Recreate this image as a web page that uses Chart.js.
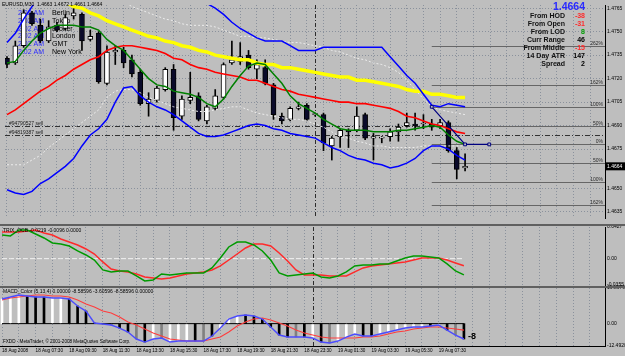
<!DOCTYPE html>
<html>
<head>
    <title>EURUSD,M30</title>
    <meta charset="utf-8">
    <script src="https://cdn.jsdelivr.net/npm/chart.js"></script>
    <style>
        body { margin: 0; background: #bebebe; }
        #wrap { position: relative; width: 625px; height: 356px; overflow: hidden; }
        canvas { position: absolute; left: 0; }
        #main { top: 0; }
        #trix { top: 222px; }
        #macd { top: 283px; }
        .sep { position: absolute; left: 0; width: 625px; height: 2px; background: #606060; }
    </style>
</head>
<body>
<div id="wrap">
    <canvas id="main" width="625" height="223"></canvas>
    <canvas id="trix" width="625" height="68"></canvas>
    <canvas id="macd" width="625" height="73"></canvas>
    <div class="sep" style="top:224px"></div>
    <div class="sep" style="top:286px"></div>
</div>
<script>
    var ARIAL = "'Liberation Sans', Arial, sans-serif";
    var SMALL = 5;
    var GRID = '#8a919c';

    // time axis (one label every 4 bars, grid every 2)
    var timeLabels = ['18 Aug 2008', '18 Aug 07:30', '18 Aug 09:30', '18 Aug 11:30', '18 Aug 13:30',
        '18 Aug 15:30', '18 Aug 17:30', '18 Aug 19:30', '18 Aug 21:30', '18 Aug 23:30',
        '19 Aug 01:30', '19 Aug 03:30', '19 Aug 05:30', '19 Aug 07:30'];
    var labelEvery = 4;
    var gridEvery = 2;
    var daySeparatorBar = 37;

    // price candles EURUSD M30
    var openP = [1.4733,1.4730,1.4741,1.4762,1.4754,1.4744,1.4754,1.4752,1.4760,1.4761,1.4745,1.4749,1.4717,1.4737,1.4738,1.4732,1.4724,1.4704,1.4706,1.4713,1.4726,1.4696,1.4706,1.4709,1.4693,1.4701,1.4708,1.4730,1.4731,1.4735,1.4726,1.4727,1.4716,1.4696,1.4694,1.4701,1.4703,1.4697,1.4697,1.4677,1.4683,1.4687,1.4687,1.4697,1.4682,1.4682,1.4683,1.4686,1.4690,1.4691,1.4691,1.4691,1.4690,1.4692,1.4674,1.4663];
    var highP = [1.4734,1.4744,1.4764,1.4763,1.4758,1.4757,1.4756,1.4761,1.4765,1.4762,1.4751,1.4750,1.4741,1.4741,1.4740,1.4735,1.4726,1.4711,1.4715,1.4727,1.4729,1.4709,1.4724,1.4711,1.4703,1.4713,1.4730,1.4744,1.4743,1.4738,1.4732,1.4732,1.4717,1.4698,1.4702,1.4705,1.4704,1.4698,1.4698,1.4683,1.4688,1.4688,1.4702,1.4698,1.4685,1.4683,1.4688,1.4691,1.4698,1.4698,1.4697,1.4694,1.4694,1.4693,1.4676,1.4672];
    var lowP = [1.4727,1.4729,1.4740,1.4754,1.4743,1.4743,1.4750,1.4751,1.4758,1.4738,1.4744,1.4717,1.4716,1.4729,1.4727,1.4721,1.4703,1.4696,1.4705,1.4712,1.4687,1.4694,1.4704,1.4693,1.4691,1.4700,1.4707,1.4729,1.4729,1.4726,1.4720,1.4716,1.4694,1.4691,1.4693,1.4700,1.4693,1.4696,1.4674,1.4668,1.4676,1.4676,1.4686,1.4681,1.4668,1.4679,1.4680,1.4680,1.4689,1.4687,1.4688,1.4687,1.4688,1.4673,1.4656,1.4661];
    var closeP = [1.4729,1.4741,1.4762,1.4755,1.4744,1.4753,1.4751,1.4759,1.4762,1.4744,1.4747,1.4718,1.4737,1.4738,1.4730,1.4723,1.4704,1.4707,1.4714,1.4726,1.4695,1.4707,1.4708,1.4694,1.4702,1.4709,1.4729,1.4732,1.4734,1.4727,1.4729,1.4717,1.4697,1.4693,1.4701,1.4702,1.4694,1.4697,1.4679,1.4682,1.4687,1.4686,1.4696,1.4682,1.4683,1.4682,1.4686,1.4689,1.4692,1.4690,1.4691,1.4689,1.4692,1.4674,1.4662,1.4664];

    // indicators on the price chart
    var maYellow = [1.4783,1.4780,1.4779,1.4776,1.4774,1.4772,1.4771,1.4769,1.4766,1.4765,1.4762,1.4760,1.4757,1.4755,1.4753,1.4751,1.4749,1.4747,1.4746,1.4744,1.4743,1.4741,1.4740,1.4738,1.4737,1.4735,1.4734,1.4733,1.4732,1.4732,1.4730,1.4729,1.4729,1.4727,1.4727,1.4726,1.4725,1.4724,1.4723,1.4722,1.4721,1.4721,1.4719,1.4719,1.4718,1.4717,1.4716,1.4715,1.4713,1.4712,1.4712,1.4710,1.4710,1.4709,1.4708,1.4708];
    var maRed = [1.4697,1.4700,1.4704,1.4708,1.4712,1.4715,1.4719,1.4722,1.4726,1.4729,1.4732,1.4734,1.4738,1.4740,1.4741,1.4741,1.4740,1.4739,1.4738,1.4736,1.4733,1.4732,1.4729,1.4727,1.4726,1.4724,1.4723,1.4722,1.4721,1.4719,1.4719,1.4717,1.4715,1.4713,1.4712,1.4710,1.4709,1.4708,1.4707,1.4706,1.4705,1.4705,1.4704,1.4704,1.4703,1.4702,1.4701,1.4699,1.4696,1.4695,1.4693,1.4691,1.4690,1.4688,1.4686,1.4685];
    var maGreen = [1.4730,1.4731,1.4738,1.4744,1.4749,1.4752,1.4754,1.4754,1.4754,1.4753,1.4753,1.4751,1.4745,1.4741,1.4738,1.4732,1.4726,1.4720,1.4716,1.4715,1.4712,1.4711,1.4710,1.4708,1.4704,1.4702,1.4707,1.4715,1.4722,1.4728,1.4730,1.4729,1.4723,1.4717,1.4709,1.4704,1.4701,1.4698,1.4694,1.4691,1.4688,1.4687,1.4687,1.4687,1.4686,1.4686,1.4686,1.4687,1.4687,1.4688,1.4689,1.4690,1.4689,1.4684,1.4680,1.4678];
    var bandUpper = [1.4743,1.4749,1.4758,1.4766,1.4773,1.4779,1.4785,1.4790,1.4794,1.4797,1.4799,1.4800,1.4801,1.4801,1.4800,1.4799,1.4797,1.4794,1.4791,1.4788,1.4784,1.4779,1.4776,1.4771,1.4768,1.4765,1.4761,1.4756,1.4752,1.4749,1.4746,1.4744,1.4744,1.4744,1.4741,1.4738,1.4738,1.4738,1.4740,1.4740,1.4740,1.4740,1.4740,1.4740,1.4740,1.4740,1.4734,1.4728,1.4722,1.4717,1.4710,1.4703,1.4702,1.4704,1.4703,1.4702];
    var bandLower = [1.4649,1.4647,1.4646,1.4648,1.4653,1.4656,1.4660,1.4664,1.4669,1.4677,1.4684,1.4688,1.4694,1.4705,1.4714,1.4715,1.4709,1.4705,1.4702,1.4700,1.4697,1.4693,1.4689,1.4685,1.4683,1.4683,1.4684,1.4686,1.4688,1.4690,1.4691,1.4690,1.4688,1.4687,1.4685,1.4684,1.4683,1.4682,1.4679,1.4676,1.4674,1.4671,1.4669,1.4668,1.4666,1.4665,1.4663,1.4664,1.4666,1.4669,1.4674,1.4677,1.4677,1.4675,1.4671,1.4668];
    var envUpper = [1.4804,1.4801,1.4799,1.4796,1.4794,1.4791,1.4789,1.4787,1.4784,1.4782,1.4779,1.4777,1.4774,1.4772,1.4769,1.4766,1.4764,1.4762,1.4760,1.4758,1.4757,1.4755,1.4754,1.4754,1.4754,1.4753,1.4751,1.4749,1.4747,1.4747,1.4746,1.4746,1.4745,1.4744,1.4743,1.4743,1.4742,1.4741,1.4740,1.4738,1.4737,1.4735,1.4733,1.4732,1.4730,1.4729,1.4727,1.4724,1.4719,1.4713,1.4707,1.4702,1.4700,1.4699,1.4698,1.4697];
    var envLower = [1.4665,1.4665,1.4665,1.4668,1.4671,1.4676,1.4680,1.4684,1.4688,1.4692,1.4696,1.4700,1.4708,1.4712,1.4713,1.4713,1.4711,1.4708,1.4706,1.4704,1.4702,1.4701,1.4700,1.4699,1.4699,1.4700,1.4701,1.4702,1.4702,1.4700,1.4698,1.4697,1.4696,1.4695,1.4694,1.4694,1.4693,1.4691,1.4689,1.4686,1.4683,1.4682,1.4680,1.4679,1.4677,1.4677,1.4676,1.4676,1.4676,1.4676,1.4677,1.4677,1.4677,1.4677,1.4677,1.4677];

    var priceTicks = [1.4765, 1.4750, 1.4735, 1.4720, 1.4705, 1.4690, 1.4675, 1.4650, 1.4635];

    // objects
    var fibLevels = [1.4741, 1.4716, 1.4702, 1.4690, 1.4678, 1.4666, 1.4654, 1.4639];
    var fibLabels = ['262%', '162%', '100%', '50%', '0%', '50%', '100%', '162%'];
    var fibStartBar = 51;
    var anchorBars = [51, 55, 57.9];
    var anchorPrices = [1.4702, 1.4678, 1.4678];
    var orderPrices = [1.4690, 1.4684];
    var orderLabels = ['#94790527 sell', '#94819387 sell'];
    var clockTimes = ['2:02 AM', '2:02 AM', '2:02 AM', '2:02 AM', '2:02 AM', '2:02 AM'];
    var clockNames = ['Berlin', 'Tokyo', 'Broker', 'London', 'GMT', 'New York'];
    var infoLabels = ['From HOD', 'From Open', 'From LOD', 'Curr Range', 'From Middle', '14 Day ATR', 'Spread'];
    var infoValues = ['-38', '-31', '8', '46', '-15', '147', '2'];
    var infoColors = ['#ff2a2a', '#ff2a2a', '#00a000', '#000000', '#ff2a2a', '#000000', '#000000'];
    var headline = 'EURUSD,M30  1.4663 1.4672 1.4661 1.4664';

    // TRIX sub window
    var trixFast = [0.0319,0.0306,0.0387,0.0387,0.0333,0.0279,0.0212,0.0198,0.0171,0.0104,0.0050,-0.0018,-0.0152,-0.0179,-0.0166,-0.0166,-0.0233,-0.0301,-0.0287,-0.0206,-0.0220,-0.0206,-0.0193,-0.0193,-0.0193,-0.0125,0.0009,0.0158,0.0225,0.0225,0.0185,0.0104,-0.0018,-0.0193,-0.0233,-0.0220,-0.0206,-0.0193,-0.0247,-0.0260,-0.0233,-0.0179,-0.0098,-0.0085,-0.0085,-0.0071,-0.0071,-0.0031,0.0009,0.0036,0.0036,0.0023,0.0009,-0.0071,-0.0166,-0.0219];
    var trixSlow = [0.0360,0.0360,0.0360,0.0373,0.0387,0.0346,0.0319,0.0266,0.0225,0.0185,0.0131,0.0063,-0.0044,-0.0139,-0.0166,-0.0179,-0.0206,-0.0247,-0.0260,-0.0274,-0.0260,-0.0233,-0.0206,-0.0193,-0.0179,-0.0152,-0.0098,-0.0018,0.0063,0.0144,0.0198,0.0198,0.0171,0.0077,-0.0031,-0.0152,-0.0220,-0.0220,-0.0220,-0.0233,-0.0233,-0.0233,-0.0179,-0.0125,-0.0098,-0.0085,-0.0071,-0.0058,-0.0044,-0.0018,0.0009,0.0009,0.0009,-0.0018,-0.0058,-0.0096];
    var trixLevel = 0;
    var trixTicks = [0.0427, 0, -0.0355];
    var trixTitle = 'TRIX_OCB -0.0219 -0.0096 0.0000';

    // MACD sub window
    var macdMain = [13.74,14.86,15.97,15.41,14.86,14.86,14.30,14.30,13.74,9.83,7.04,0.34,-0.22,-0.78,-2.46,-4.69,-8.60,-10.28,-8.60,-8.04,-10.28,-9.72,-9.72,-9.72,-9.72,-6.93,-2.46,2.57,4.24,4.80,4.24,2.57,-1.90,-6.37,-7.48,-7.48,-7.48,-8.04,-10.28,-10.83,-9.72,-7.48,-5.81,-6.93,-6.93,-5.81,-4.69,-3.57,-2.46,-1.90,-1.90,-1.34,-0.78,-3.57,-6.37,-8.586];
    var macdSignal = [13.18,14.30,14.86,15.41,15.97,15.97,15.41,15.41,14.86,13.18,10.95,9.27,7.04,5.92,3.69,0.89,-0.78,-3.02,-5.25,-6.93,-8.60,-9.16,-9.72,-9.72,-9.72,-8.60,-7.48,-4.69,-1.34,0.89,2.57,3.13,2.01,0.34,-1.34,-3.57,-5.25,-6.37,-7.48,-8.04,-8.04,-8.04,-8.04,-7.48,-7.48,-6.93,-5.81,-4.69,-4.13,-3.02,-2.46,-1.90,-1.90,-2.46,-3.02,-3.606];
    var macdShade = ['w','w','w','k','k','k','w','w','k','k','k','k','g','g','k','k','g','k','w','g','w','w','w','k','g','k','w','w','w','k','k','k','k','k','k','g','k','w','k','g','w','w','w','k','k','w','w','w','w','w','w','k','w','k','g','k'];
    var macdTicks = [19.8979, 0, -12.492];
    var macdTitle = 'MACD_Color (5,13,4) 0.00000 -8.58596 -3.60596 -8.58596 0.00000';
    var footer = 'FXDD - MetaTrader, \u00a9 2001-2008 MetaQuotes Software Corp.';

    // bar index -> pixel: about 8.4 px per bar, first bar at x=2
    var BAR_MIN = -0.24, BAR_MAX = 71.8;

    var gridBars = [];
    for (var b = 0; b <= 70; b += gridEvery) gridBars.push(b);

    function idx(arr) {
        return arr.map(function (v, i) { return { x: i, y: v }; });
    }

    function lineDs(data, color, width, order, extra) {
        return Object.assign({
            type: 'line', data: idx(data), borderColor: color, borderWidth: width,
            pointRadius: 0, tension: 0, order: order
        }, extra || {});
    }

    function xAxis(showLabels) {
        return {
            type: 'linear', min: BAR_MIN, max: BAR_MAX, offset: false,
            afterBuildTicks: function (s) { s.ticks = gridBars.map(function (v) { return { value: v }; }); },
            afterFit: function (s) { s.height = showLabels ? 10 : 0; s.paddingLeft = 0; s.paddingRight = 0; },
            grid: { color: GRID, drawTicks: false, offset: false },
            border: { display: showLabels, color: '#000', dash: [1, 2] },
            ticks: {
                display: showLabels, autoSkip: false, maxRotation: 0, minRotation: 0,
                align: 'start', padding: 2, color: '#000', font: { family: ARIAL, size: 4.6 },
                callback: function (v) {
                    return (v % labelEvery === 0 && timeLabels[v / labelEvery]) || '';
                }
            }
        };
    }

    function yAxis(min, max, ticks, fmt, showGrid) {
        return {
            type: 'linear', position: 'right', min: min, max: max, beginAtZero: false,
            afterBuildTicks: function (s) { s.ticks = ticks.map(function (v) { return { value: v }; }); },
            afterFit: function (s) { s.width = 20; s.paddingTop = 0; s.paddingBottom = 0; },
            grid: { display: showGrid, color: GRID, drawTicks: false },
            border: { display: true, color: '#000', dash: [1, 2] },
            ticks: { padding: 2, color: '#000', font: { family: ARIAL, size: SMALL }, callback: fmt }
        };
    }

    function baseOptions(scales) {
        return {
            responsive: false, animation: false, devicePixelRatio: 1, events: [],
            layout: { padding: 0 },
            plugins: { legend: { display: false }, tooltip: { enabled: false } },
            scales: scales
        };
    }

    function drawDaySeparator(chart) {
        var ctx = chart.ctx, a = chart.chartArea;
        var px = Math.round(chart.scales.x.getPixelForValue(daySeparatorBar)) + 0.5;
        ctx.save();
        ctx.strokeStyle = '#2c2c2c';
        ctx.lineWidth = 1;
        ctx.setLineDash([4, 2, 1, 2]);
        ctx.beginPath();
        ctx.moveTo(px, a.top);
        ctx.lineTo(px, a.bottom);
        ctx.stroke();
        ctx.restore();
    }

    // ---------- main price window ----------
    var bodies = openP.map(function (o, i) { return { x: i, y: [o, closeP[i]] }; });
    var wicks = lowP.map(function (l, i) { return { x: i, y: [l, highP[i]] }; });
    var bodyColors = openP.map(function (o, i) { return closeP[i] >= o ? '#ffffff' : '#0a0a2a'; });

    var mainDecor = {
        id: 'mainDecor',
        beforeDatasetsDraw: function (chart) {
            var ctx = chart.ctx, a = chart.chartArea, x = chart.scales.x, y = chart.scales.y;
            drawDaySeparator(chart);
            ctx.save();
            ctx.beginPath();
            ctx.rect(a.left, a.top, a.right - a.left, a.bottom - a.top);
            ctx.clip();
            ctx.lineWidth = 1;

            // open orders
            ctx.font = SMALL + 'px ' + ARIAL;
            ctx.textBaseline = 'alphabetic';
            orderPrices.forEach(function (p, k) {
                var py = Math.round(y.getPixelForValue(p)) + 0.5;
                ctx.strokeStyle = '#333333';
                ctx.setLineDash([5, 2, 1, 2]);
                ctx.beginPath();
                ctx.moveTo(a.left, py);
                ctx.lineTo(a.right, py);
                ctx.stroke();
                ctx.fillStyle = '#1a1a1a';
                ctx.textAlign = 'left';
                ctx.fillText(orderLabels[k], a.left + 4, py - 1.5);
            });

            // fibo levels
            ctx.setLineDash([]);
            var fx = x.getPixelForValue(fibStartBar);
            fibLevels.forEach(function (p, k) {
                var py = Math.round(y.getPixelForValue(p)) + 0.5;
                ctx.strokeStyle = '#666666';
                ctx.beginPath();
                ctx.moveTo(fx, py);
                ctx.lineTo(a.right, py);
                ctx.stroke();
                ctx.fillStyle = '#2a2a2a';
                ctx.textAlign = 'right';
                ctx.fillText(fibLabels[k], a.right - 2, py - 1.5);
            });

            // clocks (drawn under the candles)
            ctx.font = '7px ' + ARIAL;
            ctx.textBaseline = 'middle';
            ctx.textAlign = 'left';
            clockTimes.forEach(function (t, k) {
                var ty = 13 + k * 7.8;
                ctx.fillStyle = '#2a2aff';
                ctx.fillText(t, 18, ty);
                ctx.fillStyle = '#000';
                ctx.fillText(clockNames[k], 52, ty);
            });
            ctx.restore();
        },
        afterDatasetsDraw: function (chart) {
            var ctx = chart.ctx, a = chart.chartArea, y = chart.scales.y;
            ctx.save();
            ctx.textBaseline = 'middle';

            ctx.font = SMALL + 'px ' + ARIAL;
            ctx.fillStyle = '#000';
            ctx.textAlign = 'left';
            ctx.fillText(headline, 2, 5);

            ctx.font = 'bold 10.5px ' + ARIAL;
            ctx.fillStyle = '#2a2aff';
            ctx.textAlign = 'right';
            ctx.fillText(closeP[closeP.length - 1].toFixed(4), 585, 7);

            ctx.font = 'bold 7px ' + ARIAL;
            infoLabels.forEach(function (t, k) {
                var ty = 16 + k * 7.95;
                ctx.fillStyle = '#111';
                ctx.fillText(t, 565, ty);
                ctx.fillStyle = infoColors[k];
                ctx.fillText(infoValues[k], 585, ty);
            });

            // current price on the scale
            var py = y.getPixelForValue(closeP[closeP.length - 1]);
            ctx.fillStyle = '#000';
            ctx.fillRect(a.right, py - 4, 20, 8);
            ctx.fillStyle = '#fff';
            ctx.font = SMALL + 'px ' + ARIAL;
            ctx.textAlign = 'left';
            ctx.fillText(closeP[closeP.length - 1].toFixed(4), a.right + 2, py);
            ctx.restore();
        }
    };

    new Chart(document.getElementById('main'), {
        type: 'bar',
        data: {
            datasets: [
                { type: 'line', data: anchorBars.map(function (b, i) { return { x: b, y: anchorPrices[i] }; }),
                    borderColor: '#000080', borderWidth: 1.2, pointStyle: 'rect', pointRadius: 2,
                    pointBackgroundColor: '#bebebe', pointBorderColor: '#000080', pointBorderWidth: 1, order: 0 },
                lineDs(maGreen, '#008000', 1.5, 1),
                lineDs(maRed, '#ff0000', 1.6, 2),
                lineDs(bandUpper, '#0000ff', 1.5, 3),
                lineDs(bandLower, '#0000ff', 1.5, 3),
                lineDs(maYellow, '#ffff00', 3.5, 4),
                lineDs(envUpper, '#ececec', 1, 5, { borderDash: [2, 2] }),
                lineDs(envLower, '#ececec', 1, 5, { borderDash: [2, 2] }),
                { data: bodies, backgroundColor: bodyColors, borderColor: '#000', borderWidth: 1,
                    borderSkipped: false, barThickness: 5, grouped: false, minBarLength: 1, order: 6 },
                { data: wicks, backgroundColor: '#000', barThickness: 1, grouped: false, order: 7 }
            ]
        },
        options: baseOptions({
            x: xAxis(false),
            y: yAxis(1.4631, 1.4767, priceTicks, function (v) { return v.toFixed(4); }, true)
        }),
        plugins: [mainDecor]
    });

    // ---------- TRIX window ----------
    var trixDecor = {
        id: 'trixDecor',
        beforeDatasetsDraw: function (chart) { drawDaySeparator(chart); },
        afterDatasetsDraw: function (chart) {
            var ctx = chart.ctx, a = chart.chartArea;
            ctx.save();
            ctx.font = SMALL + 'px ' + ARIAL;
            ctx.fillStyle = '#000';
            ctx.textBaseline = 'middle';
            ctx.fillText(trixTitle, 3, a.top + 4);
            ctx.restore();
        }
    };

    new Chart(document.getElementById('trix'), {
        type: 'line',
        data: {
            datasets: [
                lineDs(trixFast, '#009a00', 1.5, 1),
                lineDs(trixSlow, '#ff2a2a', 1.5, 2),
                lineDs(trixFast.map(function () { return trixLevel; }), '#f2f2f2', 1, 3, { borderDash: [5, 2] })
            ]
        },
        options: Object.assign(baseOptions({
            x: xAxis(false),
            y: yAxis(-0.0355, 0.0427, trixTicks, function (v) { return v === 0 ? '0.00' : v.toFixed(4); }, false)
        }), { layout: { padding: { top: 5, bottom: 5 } } }),
        plugins: [trixDecor]
    });

    // ---------- MACD window ----------
    var shadeColors = { w: '#ffffff', k: '#000000', g: '#808080' };
    var macdDecor = {
        id: 'macdDecor',
        beforeDatasetsDraw: function (chart) { drawDaySeparator(chart); },
        afterDatasetsDraw: function (chart) {
            var ctx = chart.ctx, a = chart.chartArea, x = chart.scales.x, y = chart.scales.y;
            var last = macdMain.length - 1;
            ctx.save();
            ctx.font = SMALL + 'px ' + ARIAL;
            ctx.fillStyle = '#000';
            ctx.textBaseline = 'middle';
            ctx.fillText(macdTitle, 3, a.top + 4);
            ctx.font = '4.6px ' + ARIAL;
            ctx.fillText(footer, 3, a.bottom - 4);
            ctx.font = 'bold 9px ' + ARIAL;
            ctx.fillText(String(Math.trunc(macdMain[last])), x.getPixelForValue(last + 0.5), y.getPixelForValue(macdMain[last]) - 2);
            ctx.restore();
        }
    };

    new Chart(document.getElementById('macd'), {
        type: 'bar',
        data: {
            datasets: [
                lineDs(macdMain, '#4b4bff', 1.4, 0),
                lineDs(macdSignal, '#ff3c3c', 1.1, 1),
                lineDs(macdMain.map(function () { return 0; }), '#000000', 1, 2),
                { data: idx(macdMain), backgroundColor: macdShade.map(function (s) { return shadeColors[s]; }),
                    barThickness: 2, grouped: false, order: 3 }
            ]
        },
        options: Object.assign(baseOptions({
            x: xAxis(true),
            y: yAxis(-12.492, 19.8979, macdTicks, function (v) { return v === 0 ? '0.00' : v.toFixed(4); }, false)
        }), { layout: { padding: { top: 5, bottom: 0 } } }),
        plugins: [macdDecor]
    });
</script>
</body>
</html>
